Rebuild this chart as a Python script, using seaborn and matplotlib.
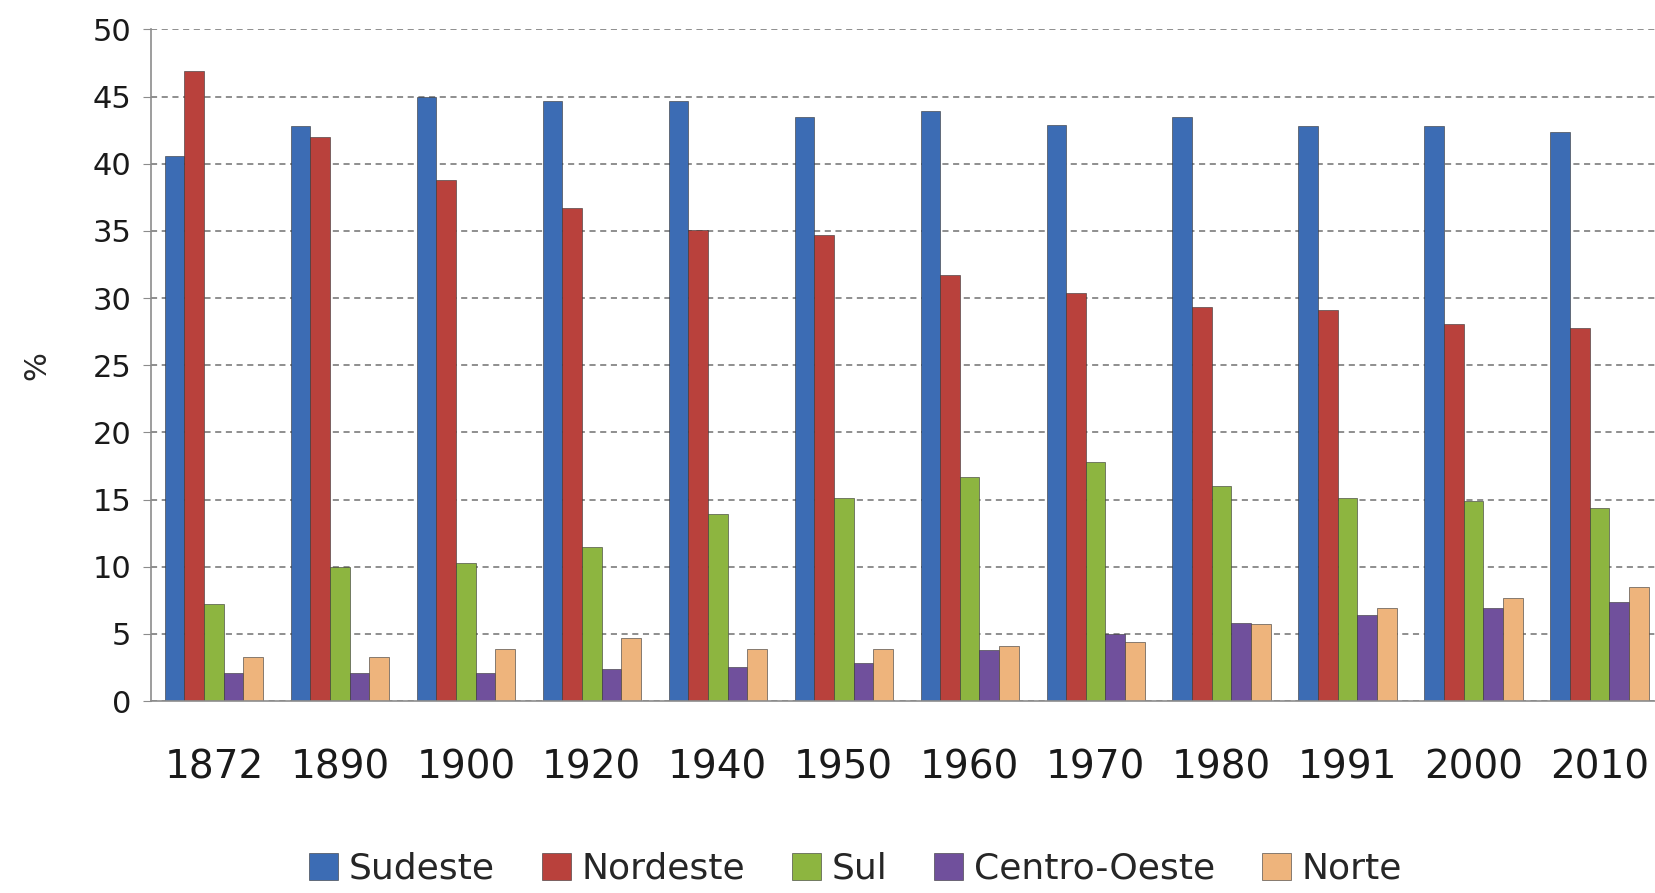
import numpy as np
import pandas as pd
import matplotlib.pyplot as plt
import seaborn as sns

# Participação (%) das regiões na população do Brasil
anos = ["1872", "1890", "1900", "1920", "1940", "1950", "1960", "1970", "1980", "1991", "2000", "2010"]
regioes = ["Sudeste", "Nordeste", "Sul", "Centro-Oeste", "Norte"]
sudeste = [40.6, 42.8, 45.0, 44.7, 44.7, 43.5, 43.9, 42.9, 43.5, 42.8, 42.8, 42.4]
nordeste = [46.9, 42.0, 38.8, 36.7, 35.1, 34.7, 31.7, 30.4, 29.3, 29.1, 28.1, 27.8]
sul = [7.2, 10.0, 10.3, 11.5, 13.9, 15.1, 16.7, 17.8, 16.0, 15.1, 14.9, 14.4]
centro_oeste = [2.1, 2.1, 2.1, 2.4, 2.5, 2.8, 3.8, 5.0, 5.8, 6.4, 6.9, 7.4]
norte = [3.3, 3.3, 3.9, 4.7, 3.9, 3.9, 4.1, 4.4, 5.7, 6.9, 7.7, 8.5]

cores = ["#3c6cb4", "#b9413c", "#8db540", "#70509c", "#eeb47c"]

series = [sudeste, nordeste, sul, centro_oeste, norte]
linhas = []
for reg, vals in zip(regioes, series):
    for ano, v in zip(anos, vals):
        linhas.append({"Ano": ano, "Região": reg, "pct": v})
df = pd.DataFrame(linhas)

sns.set_style("white")
plt.rcParams["font.family"] = ["DejaVu Sans"]

fig = plt.figure(figsize=(16.55, 8.93), dpi=100)
ax = fig.add_axes([0.0912, 0.215, 0.9133, 0.752])

sns.barplot(data=df, x="Ano", y="pct", hue="Região", order=anos, hue_order=regioes,
            palette=cores, saturation=1, width=0.78, ax=ax, legend=True,
            edgecolor="#333333", linewidth=0.4)

ax.set_ylim(0, 50)
ax.set_yticks(np.arange(0, 51, 5))
ax.set_xlim(-0.5, len(anos) - 0.5)
ax.yaxis.grid(True, linestyle=(0, (4, 3)), color="#707070", linewidth=1.1)
ax.set_axisbelow(True)

for s in ["top", "right"]:
    ax.spines[s].set_visible(False)
for s in ["left", "bottom"]:
    ax.spines[s].set_color("#8c8c8c")
    ax.spines[s].set_linewidth(1.2)

ax.set_xticks(np.arange(-0.5, len(anos), 1), minor=True)
ax.tick_params(axis="x", which="major", length=0, pad=34, labelsize=28, colors="#1a1a1a")
ax.tick_params(axis="x", which="minor", length=12, color="#8c8c8c", width=1)
ax.tick_params(axis="y", which="major", length=6, left=True, color="#8c8c8c",
               labelsize=22, colors="#1a1a1a", pad=8)

ax.set_xlabel("")
ax.set_ylabel("%", fontsize=22, labelpad=30)

ax.get_legend().remove()
handles = [plt.Rectangle((0, 0), 1, 1, facecolor=c, edgecolor="#333333", linewidth=0.4) for c in cores]
fig.legend(handles, regioes, loc="center", bbox_to_anchor=(0.517, 0.027), ncol=5,
           frameon=False, fontsize=26, handlelength=0.8, handleheight=0.8,
           handletextpad=0.3, columnspacing=1.3)

plt.savefig("out.png", dpi=100)
